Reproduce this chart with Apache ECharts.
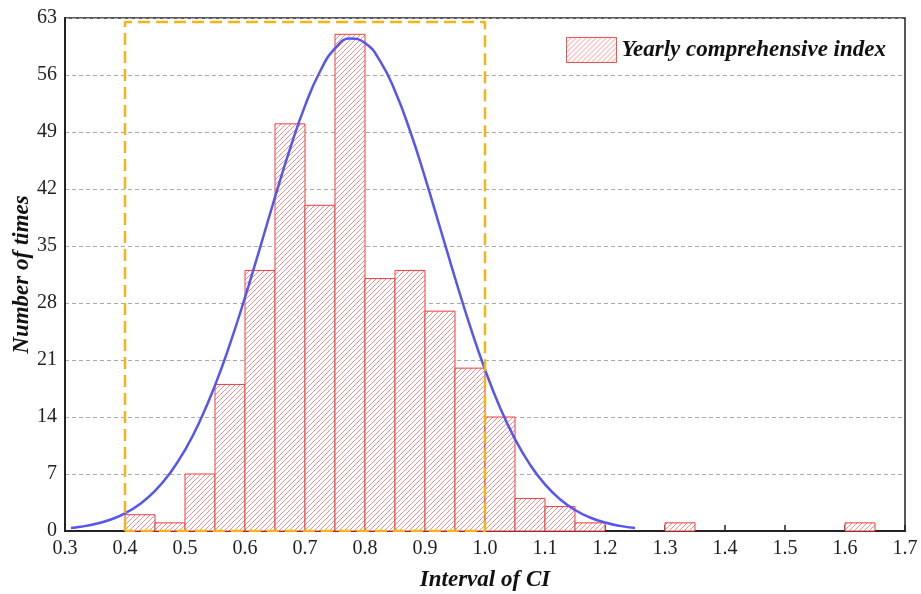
<!DOCTYPE html>
<html>
<head>
<meta charset="utf-8">
<script src="https://cdn.jsdelivr.net/npm/echarts@6/dist/echarts.min.js"></script>
<style>
  html, body { margin: 0; padding: 0; background: #fff; }
  #main { width: 921px; height: 594px; }
</style>
</head>
<body>
<div id="main"></div>
<script>
// histogram bins (left edge, width 0.05) and counts
var binStart = [0.40, 0.45, 0.50, 0.55, 0.60, 0.65, 0.70, 0.75, 0.80, 0.85, 0.90, 0.95, 1.00, 1.05, 1.10, 1.15, 1.30, 1.60];
var binCount = [2, 1, 7, 18, 32, 50, 40, 61, 31, 32, 27, 20, 14, 4, 3, 1, 1, 1];
var binWidth = 0.05;

// fitted curve
var curveX = [0.31, 0.325, 0.35, 0.375, 0.40, 0.425, 0.45, 0.475, 0.50, 0.525, 0.55, 0.575, 0.60, 0.625, 0.65, 0.675,
  0.70, 0.725, 0.75, 0.775, 0.80, 0.825, 0.85, 0.875, 0.90, 0.925, 0.95, 0.975, 1.00, 1.025, 1.05, 1.075,
  1.10, 1.125, 1.15, 1.175, 1.20, 1.225, 1.25];
var curveY = [0.37, 0.51, 0.85, 1.38, 2.17, 3.32, 4.92, 7.10, 9.94, 13.53, 17.88, 22.98, 28.68, 34.78, 40.99, 46.93,
  52.21, 56.43, 59.26, 60.47, 59.94, 57.74, 54.04, 49.15, 43.42, 37.27, 31.09, 25.19, 19.84, 15.17, 11.28, 8.15,
  5.72, 3.90, 2.58, 1.66, 1.04, 0.63, 0.37];

// dashed frame around 0.4 - 1.0
var frameX = [0.4, 0.4, 1.0, 1.0, 0.4];
var frameY = [0, 62.5, 62.5, 0, 0];

// hatch pattern
var pat = document.createElement('canvas');
pat.width = 5; pat.height = 5;
var ctx = pat.getContext('2d');
ctx.fillStyle = '#fff';
ctx.fillRect(0, 0, 5, 5);
ctx.strokeStyle = 'rgba(240,90,90,0.85)';
ctx.lineWidth = 0.8;
ctx.beginPath();
ctx.moveTo(-1, 6); ctx.lineTo(6, -1);
ctx.moveTo(-1, 1); ctx.lineTo(1, -1);
ctx.moveTo(4, 6); ctx.lineTo(6, 4);
ctx.stroke();
var hatch = { image: pat, repeat: 'repeat' };

var barData = binStart.map(function (s, i) { return [s, s + binWidth, binCount[i]]; });
var curveData = curveX.map(function (x, i) { return [x, curveY[i]]; });
var frameData = frameX.map(function (x, i) { return [x, frameY[i]]; });

var serif = 'Liberation Serif, Times New Roman, serif';
var titleFont = { fontFamily: serif, fontSize: 23, fontWeight: 'bold', fontStyle: 'italic', color: '#111' };

var myChart = echarts.init(document.getElementById('main'));
var option = {
    animation: false,
    grid: { left: 65, right: 16, top: 18, bottom: 63, show: true, borderColor: '#222', borderWidth: 1.5,
        outerBoundsMode: 'none', containLabel: false },
    legend: {
        right: 30, top: 32,
        itemWidth: 50, itemHeight: 25, itemGap: 10,
        data: [{ name: 'Yearly comprehensive index', icon: 'rect',
            itemStyle: { color: hatch, borderColor: '#f05050', borderWidth: 1 } }],
        textStyle: titleFont
    },
    xAxis: {
        type: 'value', min: 0.3, max: 1.7, interval: 0.1,
        name: 'Interval of CI', nameLocation: 'middle', nameGap: 38,
        nameTextStyle: titleFont,
        axisLine: { lineStyle: { color: '#222', width: 2 } },
        axisTick: { inside: true, length: 6, lineStyle: { color: '#222', width: 1.5 } },
        axisLabel: { fontFamily: serif, fontSize: 20, color: '#222', margin: 8,
            formatter: function (v) { return v.toFixed(1); } },
        splitLine: { show: false }
    },
    yAxis: {
        type: 'value', min: 0, max: 63, interval: 7,
        name: 'Number of times', nameLocation: 'middle', nameGap: 31, nameMoveOverlap: false,
        nameTextStyle: titleFont,
        axisLine: { show: true, lineStyle: { color: '#222', width: 2 } },
        axisTick: { show: false },
        axisLabel: { fontFamily: serif, fontSize: 20, color: '#222', margin: 8 },
        splitLine: { show: true, lineStyle: { color: '#aaa', type: [4, 3], width: 1 } }
    },
    series: [
        {
            name: 'Yearly comprehensive index',
            type: 'custom',
            data: barData,
            itemStyle: { color: hatch, borderColor: '#f05050', borderWidth: 1 },
            renderItem: function (params, api) {
                var p0 = api.coord([api.value(0), api.value(2)]);
                var p1 = api.coord([api.value(1), 0]);
                return {
                    type: 'rect',
                    shape: { x: p0[0], y: p0[1], width: p1[0] - p0[0], height: p1[1] - p0[1] },
                    style: { fill: hatch, stroke: '#f03c3c', lineWidth: 1 }
                };
            },
            encode: { x: [0, 1], y: 2 },
            z: 2
        },
        {
            name: 'curve',
            type: 'line',
            data: curveData,
            smooth: true,
            showSymbol: false,
            lineStyle: { color: '#5555f0', width: 2.5 },
            z: 4
        },
        {
            name: 'frame',
            type: 'line',
            data: frameData,
            showSymbol: false,
            lineStyle: { color: '#f5b414', width: 2.5, type: [12, 6] },
            z: 5
        }
    ]
};
myChart.setOption(option);
</script>
</body>
</html>
